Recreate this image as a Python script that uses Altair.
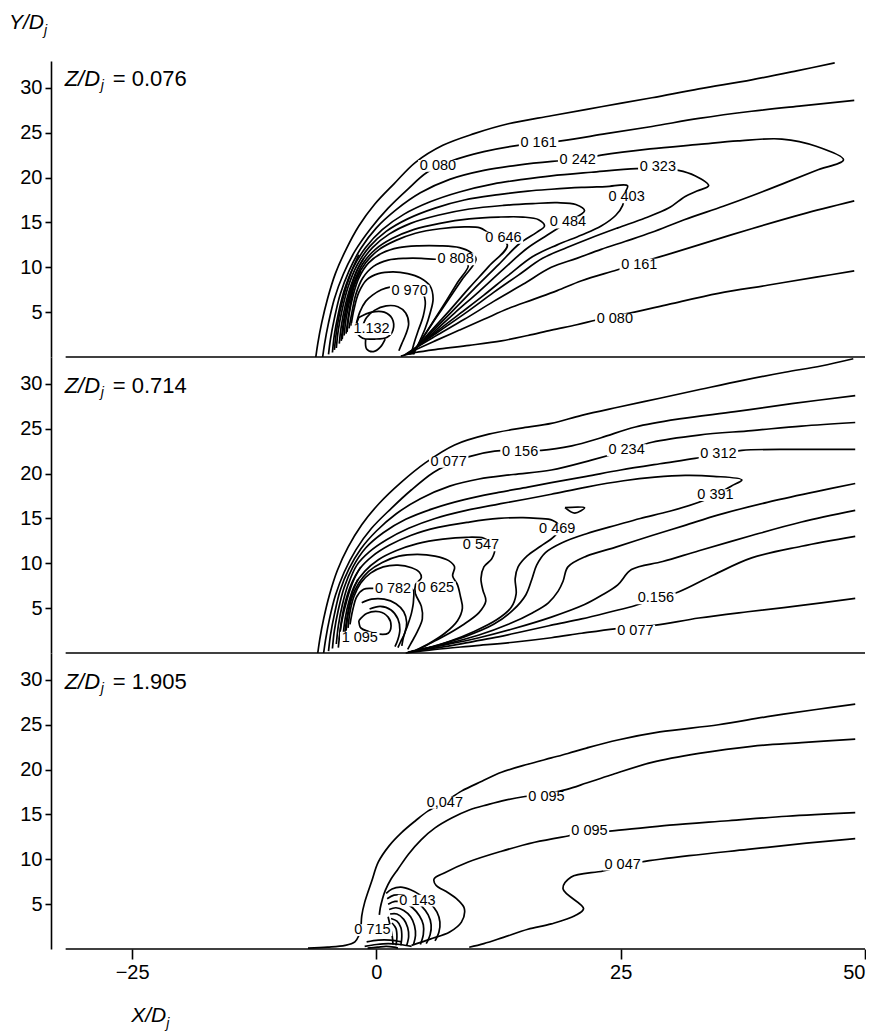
import altair as alt
import pandas as pd

FONT = "Liberation Sans"
X_DOMAIN = [-33.3, 50]
Y_DOMAIN = [0, 33]
PANEL_W, PANEL_H = 814, 296
X_TICKS = [-25, 0, 25, 50]
Y_TICKS = [5, 10, 15, 20, 25, 30]
WALL = [-31.8, 50]
Z_VALUES = ["= 0.076", "= 0.714", "= 1.905"]
Z_X = [-31.9, -31.9, -31.9]
Z_Y = [31.0, 29.8, 29.8]
BOX = "M-1,-0.3L1,-0.3L1,0.3L-1,0.3Z"

# ---------------- panel 1 : Z/Dj = 0.076 ----------------
p1_c00 = ([-6.2, -6.0, -5.6, -5.0, -4.2, -3.1, -1.8, -0.2, 1.8, 4.0, 6.8, 10.0, 13.5, 17.9, 23.0, 28.2, 33.0, 38.4, 43.0, 46.9],
          [0.0, 1.5, 3.8, 6.5, 9.3, 12.0, 14.6, 17.0, 19.3, 21.7, 23.6, 24.9, 26.0, 26.9, 27.9, 28.9, 29.9, 30.9, 31.9, 32.8])
p1_c01 = ([-5.5, -5.3, -4.9, -4.3, -3.4, -2.2, -0.6, 1.2, 3.2, 5.2, 7.8, 11.0, 14.5, 18.9, 23.5, 28.2, 33.0, 38.4, 43.5, 48.9],
          [0.0, 1.5, 3.8, 6.5, 9.2, 11.8, 14.3, 16.6, 18.7, 20.6, 21.9, 22.9, 23.6, 24.1, 24.9, 25.7, 26.6, 27.4, 28.0, 28.6])
p1_c02 = ([-4.9, -4.7, -4.3, -3.7, -2.8, -1.6, 0.0, 2.0, 4.5, 7.5, 11.0, 14.5, 18.0, 20.6, 23.0, 28.0, 33.0, 37.0, 41.5, 45.0, 47.8,
           45.0, 42.0, 38.5, 35.5, 31.5, 28.2, 25.5, 23.0, 20.5, 17.9, 15.0, 12.0, 9.0, 6.0, 4.0, 3.0],
          [0.3, 2.0, 4.3, 7.0, 9.6, 12.1, 14.4, 16.4, 18.3, 19.8, 20.8, 21.4, 21.8, 22.0, 22.5, 23.2, 23.7, 24.1, 24.3, 23.5, 22.0,
           20.8, 19.5, 18.0, 16.8, 15.3, 13.9, 12.9, 12.0, 11.0, 10.0, 8.1, 6.2, 4.2, 2.3, 1.0, 0.3])
p1_c03 = ([-4.5, -4.3, -3.9, -3.3, -2.4, -1.1, 0.6, 2.8, 5.5, 8.5, 12.0, 15.0, 17.9, 22.0, 26.6, 28.8, 30.9, 32.6, 34.0,
           32.8, 31.6, 29.9, 27.5, 24.7, 22.0, 19.5, 17.0, 14.5, 12.0, 9.5, 7.0, 5.0, 3.1],
          [0.5, 2.5, 4.8, 7.4, 9.9, 12.2, 14.2, 15.9, 17.3, 18.4, 19.3, 19.8, 20.2, 20.6, 21.0, 21.0, 20.8, 20.2, 19.1,
           18.5, 17.9, 16.6, 15.5, 14.4, 13.3, 12.2, 11.0, 9.1, 7.2, 5.2, 3.3, 1.8, 0.3])
p1_c04 = ([-4.1, -3.9, -3.5, -2.9, -2.0, -0.7, 1.0, 3.2, 6.0, 9.0, 12.5, 15.5, 17.9, 21.0, 23.5, 25.7,
           25.4, 25.2, 24.5, 23.0, 21.0, 18.5, 16.0, 13.5, 11.0, 8.5, 6.0, 4.4, 3.2],
          [1.0, 3.0, 5.3, 7.8, 10.2, 12.3, 14.0, 15.4, 16.6, 17.5, 18.1, 18.5, 18.7, 18.9, 19.0, 19.1,
           18.2, 16.9, 15.8, 14.6, 13.6, 12.5, 11.2, 9.1, 6.9, 4.8, 2.7, 1.3, 0.3])
p1_c05 = ([-3.8, -3.6, -3.2, -2.6, -1.7, -0.4, 1.3, 3.5, 6.3, 9.5, 13.0, 16.0, 18.5, 20.4, 21.3,
           19.5, 17.5, 15.4, 13.0, 10.5, 8.0, 5.8, 4.3, 3.3],
          [1.5, 3.4, 5.7, 8.0, 10.3, 12.2, 13.7, 14.9, 15.8, 16.5, 16.9, 17.1, 17.2, 17.0, 16.3,
           15.0, 13.6, 12.1, 9.8, 7.3, 4.9, 2.7, 1.3, 0.3])
p1_c06 = ([-3.5, -3.3, -2.9, -2.3, -1.4, -0.1, 1.6, 3.8, 6.5, 9.5, 12.5, 15.0, 16.6, 17.2,
           16.4, 14.6, 12.5, 10.0, 7.5, 5.5, 4.2, 3.4],
          [2.0, 3.9, 6.1, 8.3, 10.4, 12.0, 13.2, 14.2, 14.9, 15.4, 15.6, 15.6, 15.3, 14.6,
           13.9, 12.6, 10.3, 7.6, 4.8, 2.6, 1.2, 0.3])
p1_c07 = ([-3.3, -3.1, -2.7, -2.1, -1.1, 0.3, 2.0, 4.0, 6.5, 9.0, 10.6, 11.4,
           13.4, 11.5, 9.5, 7.5, 5.5, 4.3, 3.5],
          [2.4, 4.3, 6.5, 8.6, 10.5, 12.0, 13.0, 13.8, 14.3, 14.5, 14.4, 13.9,
           12.5, 10.1, 7.7, 5.2, 2.8, 1.3, 0.3])
p1_c08 = ([-3.0, -2.8, -2.4, -1.8, -0.8, 0.6, 2.3, 4.3, 6.5, 8.5, 9.6, 10.2, 8.8, 7.5, 6.0, 4.6, 3.6],
          [2.8, 4.7, 6.8, 8.8, 10.5, 11.6, 12.2, 12.4, 12.4, 12.2, 11.7, 10.9, 8.7, 6.6, 4.2, 1.9, 0.3])
p1_c09 = ([-2.8, -2.5, -2.1, -1.4, -0.3, 1.2, 3.0, 4.6, 6.0, 7.5, 8.8, 9.4, 8.3, 7.0, 5.6, 4.5, 3.7],
          [3.2, 5.0, 7.0, 8.8, 10.1, 10.8, 11.0, 11.0, 10.9, 10.9, 10.7, 10.2, 8.3, 6.0, 3.6, 1.7, 0.3])
p1_c10 = ([-2.6, -2.3, -1.8, -1.0, 0.2, 1.7, 3.2, 4.5, 5.5, 5.8, 5.5, 5.0, 4.4, 3.8],
          [3.5, 5.3, 7.2, 8.6, 9.3, 9.5, 9.3, 8.8, 7.9, 6.5, 4.9, 3.2, 1.7, 0.3])
p1_c11 = ([-2.1, -1.7, -1.1, -0.4, 0.5, 1.4, 2.5, 3.6, 4.6, 5.0, 4.8, 4.3, 3.9, 3.6],
          [3.5, 5.0, 6.2, 6.9, 7.5, 7.8, 7.8, 7.7, 7.4, 6.2, 4.6, 3.0, 1.7, 0.5])
p1_c12 = ([-1.5, -1.0, -0.2, 1.0, 2.2, 3.0, 3.3, 3.0, 2.6, 2.3],
          [3.2, 4.4, 5.2, 5.7, 5.6, 4.9, 3.7, 2.5, 1.5, 0.7])
p1_c13 = ([-1.8, -0.5, 0.8, 1.6, 1.7, 1.1, -0.2, -1.4, -2.1, -1.8],
          [4.4, 5.0, 5.0, 4.3, 3.0, 2.2, 2.0, 2.1, 3.0, 4.4])
p1_c14 = ([-1.1, -1.0, -0.3, 0.4, 0.9],
          [2.0, 0.9, 0.6, 1.1, 2.0])
p1_c15 = ([2.8, 4.0, 6.0, 8.5, 11.0, 13.5, 16.0, 18.5, 21.0, 24.6, 28.8, 33.0, 38.4, 43.5, 48.9],
          [0.2, 0.8, 1.8, 3.0, 4.2, 5.4, 6.4, 7.4, 8.5, 9.7, 11.1, 12.5, 14.3, 15.9, 17.4])
p1_c16 = ([2.5, 4.0, 6.5, 9.5, 12.8, 15.5, 17.9, 20.5, 22.4, 24.4, 26.4, 30.0, 35.0, 40.0, 45.0, 48.9],
          [0.1, 0.5, 0.9, 1.3, 1.8, 2.4, 3.0, 3.6, 4.1, 4.6, 5.0, 5.9, 7.1, 8.0, 8.9, 9.6])
# dense strokes along the jet's upstream edge
p1_c17 = ([-4.3, -4.0, -3.4, -2.6, -1.8], [0.8, 3.5, 6.6, 9.4, 11.4])
p1_c18 = ([-3.6, -3.3, -2.7, -2.0, -1.3], [1.8, 4.4, 7.3, 9.6, 11.0])
p1_c19 = ([-3.1, -2.8, -2.3, -1.6], [2.6, 5.0, 7.8, 9.6])
P1_LINES = [p1_c00, p1_c01, p1_c02, p1_c03, p1_c04, p1_c05, p1_c06, p1_c07, p1_c08,
            p1_c09, p1_c10, p1_c11, p1_c12, p1_c13, p1_c14, p1_c15, p1_c16,
            p1_c17, p1_c18, p1_c19]
P1_LABELS = ["0 080", "0 161", "0 242", "0 323", "0 403", "0 484", "0 646", "0 808", "0 970", "1.132", "0 161", "0 080"]
P1_LX = [6.3, 16.6, 20.6, 28.8, 25.6, 19.6, 13.0, 8.1, 3.4, -0.5, 26.9, 24.4]
P1_LY = [21.3, 23.9, 22.0, 21.2, 17.8, 15.0, 13.3, 10.9, 7.4, 3.1, 10.3, 4.2]

# ---------------- panel 2 : Z/Dj = 0.714 ----------------
p2_c00 = ([-6.0, -5.8, -5.4, -4.8, -4.0, -2.9, -1.5, 0.3, 2.5, 5.0, 8.0, 11.5, 15.0, 17.9, 21.0, 24.7, 29.0, 33.2, 37.5, 41.8, 45.5, 48.8],
          [0.0, 1.5, 3.8, 6.5, 9.2, 11.8, 14.3, 16.7, 19.0, 21.2, 23.2, 24.4, 25.1, 25.6, 26.5, 27.4, 28.4, 29.4, 30.4, 31.3, 32.0, 32.8])
p2_c01 = ([-5.4, -5.2, -4.8, -4.2, -3.3, -2.1, -0.5, 1.5, 3.6, 5.8, 7.4, 9.5, 12.1, 14.7, 16.9, 20.0, 23.0, 26.5, 31.0, 36.7, 42.5, 49.0],
          [0.0, 1.5, 3.8, 6.4, 9.0, 11.5, 13.9, 16.1, 18.2, 20.1, 21.0, 21.9, 22.5, 22.6, 22.6, 23.1, 24.0, 25.2, 26.1, 26.9, 27.8, 28.7])
p2_c02 = ([-4.9, -4.7, -4.3, -3.7, -2.8, -1.6, 0.0, 2.0, 4.5, 7.5, 10.5, 14.0, 17.9, 22.0, 25.6, 28.2, 33.0, 38.4, 43.5, 49.0],
          [0.2, 2.0, 4.3, 7.0, 9.4, 11.6, 13.6, 15.5, 17.2, 18.6, 19.4, 19.9, 20.4, 21.5, 22.6, 23.5, 24.3, 24.8, 25.3, 25.7])
p2_c03 = ([-4.5, -4.3, -3.9, -3.3, -2.4, -1.1, 0.7, 3.0, 5.8, 9.0, 12.5, 15.5, 17.9, 21.5, 25.0, 29.0, 32.6, 35.0, 37.4, 43.0, 49.0],
          [0.5, 2.5, 4.8, 7.3, 9.6, 11.7, 13.4, 14.9, 16.1, 17.1, 17.9, 18.5, 19.0, 19.7, 20.4, 21.1, 21.7, 22.2, 22.6, 22.7, 22.7])
p2_c04 = ([-4.1, -3.9, -3.5, -2.9, -2.0, -0.7, 1.0, 3.3, 6.0, 9.2, 12.5, 15.5, 17.9, 21.5, 25.3, 28.5, 31.6, 34.5, 37.4,
           36.3, 34.7, 33.0, 30.0, 27.0, 24.7, 21.5, 19.0, 17.3, 16.4, 15.9, 15.3, 14.0, 12.0, 9.0, 6.0, 4.2],
          [1.0, 3.0, 5.3, 7.6, 9.8, 11.3, 12.6, 13.9, 15.0, 15.9, 16.6, 17.2, 17.7, 18.5, 19.2, 19.6, 19.8, 19.7, 19.3,
           18.6, 17.6, 16.8, 15.8, 15.0, 14.3, 13.3, 12.3, 11.2, 9.8, 8.2, 6.5, 4.8, 3.2, 1.8, 0.8, 0.3])
p2_c05 = ([19.3, 21.3, 20.3, 19.3],
          [16.2, 16.2, 15.6, 16.2])
p2_c06 = ([-3.8, -3.6, -3.2, -2.6, -1.7, -0.4, 1.3, 3.5, 6.3, 9.5, 12.5, 15.0, 16.5, 18.0,
           18.8, 18.2, 16.8, 15.4, 14.5, 14.2, 14.3, 13.8, 12.3, 10.0, 7.5, 5.5, 4.2],
          [1.5, 3.4, 5.6, 7.6, 9.4, 10.8, 12.0, 13.1, 14.0, 14.6, 15.0, 15.1, 15.0, 14.8,
           14.0, 13.0, 11.9, 10.8, 9.6, 8.3, 6.6, 5.1, 3.7, 2.4, 1.3, 0.6, 0.2])
p2_c07 = ([-3.4, -3.2, -2.8, -2.2, -1.2, 0.2, 2.0, 4.2, 6.8, 9.2, 11.0, 11.6,
           12.1, 11.8, 11.0, 10.7, 10.9, 11.2, 10.5, 8.8, 6.8, 5.2, 4.1],
          [2.0, 3.8, 5.8, 7.6, 9.1, 10.4, 11.4, 12.2, 12.7, 12.9, 12.8, 12.4,
           11.6, 10.5, 9.6, 8.3, 7.0, 5.8, 4.5, 3.1, 1.8, 0.9, 0.3])
p2_c08 = ([-3.1, -2.9, -2.5, -1.8, -0.8, 0.6, 2.3, 4.2, 6.0, 7.4, 8.0,
           7.8, 8.3, 8.6, 8.8, 8.3, 7.0, 5.3, 4.0],
          [2.5, 4.3, 6.2, 7.8, 9.1, 10.1, 10.8, 11.0, 10.8, 10.3, 9.6,
           8.6, 7.6, 6.3, 5.0, 3.6, 2.2, 1.0, 0.3])
p2_c09 = ([-2.9, -2.7, -2.3, -1.6, -0.6, 0.7, 2.2, 3.6, 4.4, 4.6, 4.0, 4.0, 4.6, 4.7, 4.2, 3.6, 3.2],
          [2.8, 4.6, 6.3, 7.8, 8.9, 9.6, 9.8, 9.5, 9.0, 8.4, 7.6, 6.6, 5.2, 3.8, 2.4, 1.2, 0.4])
p2_c10 = ([-2.7, -2.4, -2.0, -1.3, -0.4, 1.7, 3.7, 3.8, 3.6, 3.2, 2.8, 2.6],
          [3.2, 4.9, 6.3, 7.1, 7.2, 7.2, 7.1, 5.9, 4.5, 3.1, 1.9, 0.8])
p2_c11 = ([-1.5, -0.5, 0.8, 2.0, 2.8, 3.1, 2.9, 2.5, 2.2],
          [5.6, 6.0, 6.0, 5.5, 4.6, 3.4, 2.2, 1.3, 0.6])
p2_c12 = ([-0.7, 0.4, 1.5, 2.2, 2.4, 2.2, 1.9],
          [4.9, 5.2, 4.8, 3.8, 2.6, 1.5, 0.7])
p2_c13 = ([-1.8, -1.0, 0.3, 1.2, 1.5, 1.2, 0.3, -0.8, -1.6, -1.8],
          [3.6, 4.4, 4.6, 4.0, 3.0, 2.2, 2.1, 2.4, 2.8, 3.6])
p2_c14 = ([3.6, 5.0, 7.5, 10.5, 13.5, 16.0, 17.6, 18.6, 19.1, 19.6, 21.5, 24.5, 28.2, 31.5, 35.0, 40.0, 45.0, 49.0],
          [0.2, 0.5, 1.1, 2.0, 3.2, 4.5, 5.6, 6.9, 8.0, 9.6, 10.8, 11.8, 13.1, 14.2, 15.4, 16.8, 18.0, 18.9])
p2_c15 = ([3.4, 4.5, 7.0, 10.5, 14.0, 17.9, 21.3, 23.0, 24.7, 26.1, 29.3, 33.0, 38.4, 43.5, 49.0],
          [0.1, 0.4, 0.9, 1.7, 2.7, 4.0, 5.4, 6.4, 7.6, 9.3, 10.2, 11.4, 13.1, 14.6, 15.9])
p2_c16 = ([3.2, 5.0, 7.5, 10.0, 12.5, 15.0, 17.9, 21.0, 24.0, 26.5, 28.6, 30.9, 34.5, 38.4, 43.5, 49.0],
          [0.1, 0.4, 0.8, 1.3, 1.8, 2.4, 3.1, 3.8, 4.6, 5.3, 6.1, 6.8, 8.7, 10.6, 11.9, 13.0])
p2_c17 = ([3.0, 6.0, 10.0, 14.0, 17.9, 21.0, 24.4, 26.5, 28.6, 33.0, 38.0, 43.5, 49.0],
          [0.0, 0.4, 0.8, 1.2, 1.7, 2.2, 2.7, 2.9, 3.1, 3.9, 4.6, 5.3, 6.1])
p2_c18 = ([-3.9, -3.6, -3.0, -2.3, -1.6], [0.6, 3.2, 6.0, 8.2, 9.6])
p2_c19 = ([-3.3, -3.0, -2.5, -1.9], [1.6, 4.0, 6.6, 8.2])
P2_LINES = [p2_c00, p2_c01, p2_c02, p2_c03, p2_c04, p2_c05, p2_c06, p2_c07, p2_c08,
            p2_c09, p2_c10, p2_c11, p2_c12, p2_c13, p2_c14, p2_c15, p2_c16, p2_c17,
            p2_c18, p2_c19]
P2_LABELS = ["0 077", "0 156", "0 234", "0 312", "0 391", "0 469", "0 547", "0 625", "0 782", "1 095", "0.156", "0 077"]
P2_LX = [7.4, 14.7, 25.6, 35.0, 34.7, 18.5, 10.7, 6.1, 1.7, -1.7, 28.6, 26.5]
P2_LY = [21.3, 22.4, 22.6, 22.2, 17.6, 13.8, 12.0, 7.3, 7.1, 1.7, 6.1, 2.5]

# ---------------- panel 3 : Z/Dj = 1.905 ----------------
p3_c00 = ([-7.0, -5.0, -3.2, -2.2, -1.8, -1.6, -1.5, -1.2, -0.5, 0.2, 1.3, 2.6, 4.0, 5.3, 7.0, 8.7, 10.8, 12.8,
           15.5, 17.9, 19.6, 21.5, 24.7, 29.0, 35.0, 40.0, 45.0, 49.0],
          [0.1, 0.2, 0.4, 0.8, 1.5, 2.3, 3.7, 5.2, 7.5, 9.7, 11.5, 13.0, 14.3, 15.4, 16.4, 17.6, 18.7, 19.7,
           20.6, 21.3, 21.8, 22.4, 23.3, 24.2, 25.0, 25.9, 26.7, 27.3])
p3_c01 = ([0.3, 0.4, 0.6, 0.9, 1.5, 2.2, 3.3, 4.6, 6.0, 7.7, 9.5, 11.4, 13.2, 15.2, 17.4, 19.5, 21.5, 24.0,
           28.2, 33.0, 38.4, 43.5, 49.0],
          [3.8, 4.6, 5.5, 6.5, 7.8, 8.9, 10.6, 12.2, 13.5, 14.6, 15.5, 16.1, 16.6, 17.0, 17.3, 17.8, 18.5, 19.4,
           20.8, 21.8, 22.6, 23.0, 23.4])
p3_c02 = ([3.6, 5.5, 7.5, 8.7, 9.0, 8.3, 7.3, 6.1, 5.9, 7.0, 9.4, 12.8, 16.2, 19.6, 21.8, 24.4, 30.0, 36.0, 42.0, 49.0],
          [0.4, 1.1, 1.9, 3.0, 4.5, 5.5, 6.3, 7.1, 7.8, 8.5, 9.7, 10.9, 11.9, 12.6, 13.0, 13.2, 13.8, 14.3, 14.8, 15.2])
p3_c03 = ([9.5, 11.0, 13.0, 15.5, 17.9, 20.3, 21.2, 19.1, 19.9, 23.2, 25.2, 27.1, 32.0, 38.0, 44.0, 49.0],
          [0.2, 0.6, 1.3, 2.2, 2.8, 3.7, 4.5, 6.7, 8.0, 8.7, 9.3, 9.7, 10.4, 11.1, 11.8, 12.3])
p3_c04 = ([1.0, 1.6, 2.5, 3.5, 4.5, 5.5, 6.2, 6.5, 6.4, 6.0],
          [6.2, 6.7, 6.9, 6.6, 6.0, 5.1, 4.1, 3.0, 1.9, 0.9])
p3_c05 = ([1.1, 1.8, 2.7, 3.7, 4.6, 5.3, 5.6, 5.5, 5.1],
          [5.6, 6.0, 6.0, 5.6, 4.8, 3.8, 2.7, 1.6, 0.6])
p3_c06 = ([1.2, 1.9, 2.8, 3.7, 4.4, 4.8, 4.8, 4.5],
          [5.0, 5.3, 5.2, 4.6, 3.7, 2.7, 1.6, 0.5])
p3_c07 = ([1.3, 2.0, 2.8, 3.5, 3.9, 4.0, 3.8],
          [4.4, 4.6, 4.3, 3.6, 2.6, 1.5, 0.5])
p3_c08 = ([1.4, 2.1, 2.8, 3.2, 3.3, 3.1],
          [3.9, 3.9, 3.3, 2.4, 1.4, 0.4])
p3_c09 = ([1.5, 2.1, 2.5, 2.6, 2.5],
          [3.4, 3.1, 2.4, 1.4, 0.4])
p3_c10 = ([1.6, 2.0, 2.1, 2.0],
          [2.9, 2.3, 1.3, 0.4])
p3_c11 = ([-1.2, 0.0, 1.2, 2.4, 3.6],
          [0.3, 0.5, 0.6, 0.5, 0.3])
p3_c12 = ([-1.0, 0.2, 1.4, 2.6],
          [0.8, 1.0, 1.0, 0.8])
p3_c13 = ([-0.9, 0.1, 1.0, 1.8, 2.2], [0.1, 0.2, 0.3, 0.2, 0.1])
p3_c14 = ([1.2, 1.4, 1.6, 1.7], [3.6, 2.6, 1.6, 0.5])
P3_LINES = [p3_c00, p3_c01, p3_c02, p3_c03, p3_c04, p3_c05, p3_c06, p3_c07, p3_c08,
            p3_c09, p3_c10, p3_c11, p3_c12, p3_c13, p3_c14]
P3_LABELS = ["0,047", "0 095", "0 095", "0 047", "0 143", "0 715"]
P3_LX = [7.0, 17.4, 21.8, 25.2, 4.2, -0.4]
P3_LY = [16.3, 16.9, 13.1, 9.4, 5.4, 2.1]

# axis titles (anchor positions, data units)
YT_X, YT_Y = -37.6, 36.6
XT_X, XT_Y = -25.1, -7.5


def lines_frame(lines):
    rows = []
    for k, (xs, ys) in enumerate(lines):
        for i, (x, y) in enumerate(zip(xs, ys)):
            rows.append({"line": k, "i": i, "x": x, "y": y})
    return pd.DataFrame(rows)


def panel(lines, labels, lx, ly, zval, zx, zy, first=False, last=False):
    xscale = alt.Scale(domain=X_DOMAIN, nice=False, zero=False)
    yscale = alt.Scale(domain=Y_DOMAIN, nice=False, zero=False)
    if last:
        xaxis = alt.Axis(values=X_TICKS, format="d", domain=False, tickSize=10, tickWidth=1.6,
                         tickColor="black", labelFont=FONT, labelFontSize=20, labelColor="black",
                         labelPadding=3, grid=False, title=None)
    else:
        xaxis = None
    yaxis = alt.Axis(values=Y_TICKS, format="d", domainColor="black", domainWidth=1.6,
                     tickSize=6, tickWidth=1.6, tickColor="black", labelFont=FONT,
                     labelFontSize=20, labelColor="black", labelPadding=3, grid=False, title=None)
    X = alt.X("x:Q", scale=xscale, axis=xaxis)
    Y = alt.Y("y:Q", scale=yscale, axis=yaxis)

    ln = alt.Chart(lines_frame(lines)).mark_line(
        color="black", strokeWidth=1.7, interpolate="catmull-rom"
    ).encode(x=X, y=Y, detail="line:N", order="i:Q")

    wall = alt.Chart(pd.DataFrame({"x": [WALL[0]], "x2": [WALL[1]], "y": [0]})).mark_rule(
        color="black", strokeWidth=1.7
    ).encode(x=X, x2="x2:Q", y=Y)

    lab = pd.DataFrame({"x": lx, "y": ly, "t": labels})
    boxes = alt.Chart(lab).mark_point(
        shape=BOX, filled=True, color="white", opacity=1, size=1560, strokeWidth=0
    ).encode(x=X, y=Y)
    texts = alt.Chart(lab).mark_text(
        font=FONT, fontSize=14.5, color="black"
    ).encode(x=X, y=Y, text="t:N")

    tdf = pd.DataFrame({"x": [zx], "y": [zy]})
    t1 = alt.Chart(tdf).mark_text(text="Z/D", font=FONT, fontSize=22, fontStyle="italic",
                                  align="left", baseline="middle", color="black").encode(x=X, y=Y)
    t2 = alt.Chart(tdf).mark_text(text="j", font=FONT, fontSize=14, fontStyle="italic",
                                  align="left", baseline="middle", dx=36, dy=7, color="black").encode(x=X, y=Y)
    t3 = alt.Chart(tdf).mark_text(text=zval, font=FONT, fontSize=22,
                                  align="left", baseline="middle", dx=48, color="black").encode(x=X, y=Y)
    layers = [ln, wall, boxes, texts, t1, t2, t3]

    if first:
        ydf = pd.DataFrame({"x": [YT_X], "y": [YT_Y]})
        layers.append(alt.Chart(ydf).mark_text(text="Y/D", font=FONT, fontSize=21, fontStyle="italic",
                                               align="left", baseline="alphabetic", color="black").encode(x=X, y=Y))
        layers.append(alt.Chart(ydf).mark_text(text="j", font=FONT, fontSize=14, fontStyle="italic",
                                               align="left", baseline="alphabetic", dx=35, dy=6,
                                               color="black").encode(x=X, y=Y))
    if last:
        xdf = pd.DataFrame({"x": [XT_X], "y": [XT_Y]})
        layers.append(alt.Chart(xdf).mark_text(text="X/D", font=FONT, fontSize=21, fontStyle="italic",
                                               align="left", baseline="middle", color="black").encode(x=X, y=Y))
        layers.append(alt.Chart(xdf).mark_text(text="j", font=FONT, fontSize=14, fontStyle="italic",
                                               align="left", baseline="middle", dx=35, dy=8,
                                               color="black").encode(x=X, y=Y))
    return alt.layer(*layers).properties(width=PANEL_W, height=PANEL_H)


p1 = panel(P1_LINES, P1_LABELS, P1_LX, P1_LY, Z_VALUES[0], Z_X[0], Z_Y[0], first=True)
p2 = panel(P2_LINES, P2_LABELS, P2_LX, P2_LY, Z_VALUES[1], Z_X[1], Z_Y[1])
p3 = panel(P3_LINES, P3_LABELS, P3_LX, P3_LY, Z_VALUES[2], Z_X[2], Z_Y[2], last=True)

chart = alt.vconcat(p1, p2, p3, spacing=0, bounds="flush").properties(
    padding={"left": 0, "top": 3, "right": 0, "bottom": 0},
    background="white",
).configure_view(stroke=None)

chart.save("out.html", embed_options={"renderer": "svg", "actions": False})
